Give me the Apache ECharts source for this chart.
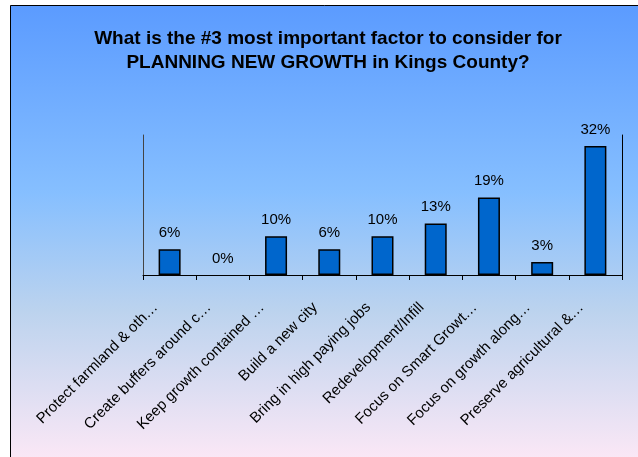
<!DOCTYPE html>
<html>
<head>
<meta charset="utf-8">
<script src="https://cdn.jsdelivr.net/npm/echarts@6/dist/echarts.min.js"></script>
<style>
  html, body { margin: 0; padding: 0; background: #fff; }
  #main { width: 638px; height: 457px; }
</style>
</head>
<body>
<div id="main"></div>
<script>
// categories as they appear (truncated) under the axis
const factors = [
  'Protect farmland & oth…',
  'Create buffers around c…',
  'Keep growth contained …',
  'Build a new city',
  'Bring in high paying jobs',
  'Redevelopment/Infill',
  'Focus on Smart Growt…',
  'Focus on growth along…',
  'Preserve agricultural &…'
]
// share of answers, percent
const shares = [6.45, 0, 9.68, 6.45, 9.68, 12.9, 19.35, 3.23, 32.26]
const titleLines = [
  'What is the #3 most important factor to consider for',
  'PLANNING NEW GROWTH in Kings County?'
]

const chart = echarts.init(document.getElementById('main'))
const font = '"Liberation Sans", Arial, sans-serif'

// a zero bar gets no outline (Excel draws nothing there)
const barData = shares.map(v => v > 0 ? v : { value: v, itemStyle: { borderWidth: 0 } })

const option = {
  animation: false,
  graphic: [{
    type: 'rect',
    z: -10,
    silent: true,
    shape: { x: 10.5, y: 5.5, width: 660, height: 470 },
    style: {
      fill: new echarts.graphic.LinearGradient(0, 0, 0, 1, [
        { offset: 0, color: '#5b9bff' },
        { offset: 0.4, color: '#86bfff' },
        { offset: 0.65, color: '#bcd3ee' },
        { offset: 0.97, color: '#fce8f6' },
        { offset: 1, color: '#fce8f6' }
      ]),
      stroke: '#000',
      lineWidth: 1
    }
  }],
  title: {
    text: titleLines.join('\n'),
    left: 328,
    top: 27,
    textAlign: 'center',
    padding: 0,
    textStyle: {
      fontFamily: font,
      fontSize: 19,
      fontWeight: 'bold',
      color: '#000',
      lineHeight: 24
    }
  },
  grid: { left: 143, right: 16, top: 135, bottom: 182 },
  xAxis: {
    type: 'category',
    data: factors,
    axisLine: { lineStyle: { color: '#000', width: 1 } },
    axisTick: { show: true, length: 5, lineStyle: { color: '#000' } },
    axisLabel: {
      interval: 0,
      rotate: 45,
      margin: 16,
      padding: [0, 20, 0, 0],
      fontFamily: font,
      fontSize: 15,
      color: '#000'
    }
  },
  yAxis: [{
    type: 'value',
    min: 0,
    max: 35,
    axisLine: { show: true, lineStyle: { color: '#444' } },
    axisTick: { show: false },
    axisLabel: { show: false },
    splitLine: { show: false }
  }, {
    type: 'value',
    position: 'right',
    min: 0,
    max: 35,
    axisLine: { show: true, lineStyle: { color: '#000' } },
    axisTick: { show: false },
    axisLabel: { show: false },
    splitLine: { show: false }
  }],
  series: [{
    type: 'bar',
    data: barData,
    barWidth: 22,
    itemStyle: { color: '#0066cc', borderColor: '#000', borderWidth: 1.5 },
    label: {
      show: true,
      position: 'top',
      distance: 9,
      formatter: p => Math.round(p.value) + '%',
      fontFamily: font,
      fontSize: 15,
      color: '#000'
    }
  }]
}
chart.setOption(option)
</script>
</body>
</html>
